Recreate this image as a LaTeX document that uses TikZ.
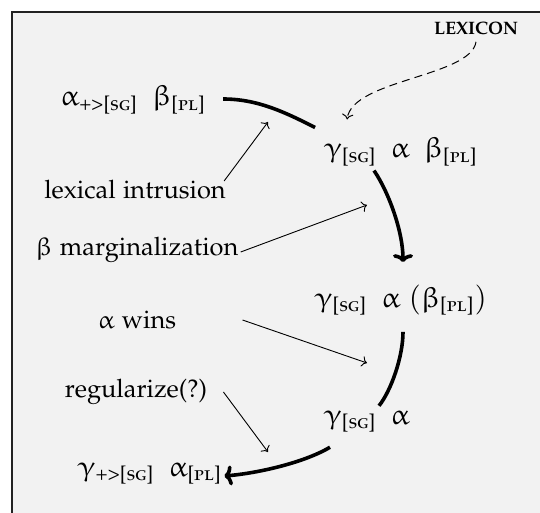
\documentclass[tikz,border=0pt,12pt]{standalone}
\usepackage[T1]{fontenc}
\usepackage[sc]{mathpazo}
\usepackage{amsmath}
\usepackage{upgreek}
\usetikzlibrary{calc,arrows.meta}
\definecolor{bg}{HTML}{F2F2F2}
\definecolor{frame}{HTML}{222222}
\newcommand{\tgsub}[1]{\text{[\textsc{#1}]}}
\tikzset{
  gk/.style={inner sep=0pt,font=\large},
  lbl/.style={inner sep=0pt,font=\fontsize{12.7}{15}\selectfont},
  thickline/.style={line width=1.8pt},
  thickarrow/.style={line width=1.8pt,-{To[length=4pt,width=10pt]}},
  thinarrow/.style={line width=0.45pt,->},
  dasharrow/.style={line width=0.5pt,dash pattern=on 4pt off 2.6pt,->}
}
\begin{document}
\begin{tikzpicture}[x=0.5pt,y=-0.5pt]
\useasboundingbox (0,0) rectangle (540,513);
\fill[bg] (12,12) rectangle (540,513);
\draw[frame,line width=1pt] (12,513) -- (12,12) -- (540,12);

\node[gk] (A) at (133,100) {$\upalpha_{\text{+>[\textsc{sg}]}}\enspace\upbeta_{\tgsub{pl}}$};
\node[gk] (B) at (401,152) {$\upgamma_{\tgsub{sg}}\enspace\upalpha\enspace\upbeta_{\tgsub{pl}}$};
\node[gk] (C) at (401,300) {$\upgamma_{\tgsub{sg}}\enspace\upalpha\ (\upbeta_{\tgsub{pl}})$};
\node[gk] (D) at (367,422) {$\upgamma_{\tgsub{sg}}\enspace\upalpha$};
\node[gk] (E) at (150,474) {$\upgamma_{\text{+>[\textsc{sg}]}}\enspace\upalpha_{\tgsub{pl}}$};
\node[lbl] (lex) at (476,28) {\fontsize{9}{10}\selectfont\bfseries LEXICON};
\node[lbl] (L1) at (135,190) {lexical intrusion};
\node[lbl] (L2) at (137,250) {$\upbeta$ marginalization};
\node[lbl] (L3) at (137,320) {$\upalpha$ wins};
\node[lbl] (L4) at (136,392) {regularize(?)};

\coordinate (t1) at (268,122);
\coordinate (t2) at (367,205);
\coordinate (t3) at (367,363);
\coordinate (t4) at (268,452);

\draw[thickline] ($(A.east)+(17,-1)$) .. controls +(35,0) and +(-30,-15) .. ($(B.north west)+(-9,-10)$);
\draw[thickarrow] ($(B.south)+(-27,4)$) .. controls +(15,22) and +(0,-30) .. ($(C.north)+(2,-22)$);
\draw[thickline] ($(C.south)+(2,16)$) .. controls +(0,25) and +(12,-15) .. ($(D.north east)+(-31,-5)$);
\draw[thickarrow] ($(D.south west)+(6,14)$) .. controls +(-25,15) and +(35,-3) .. ($(E.east)+(2,2)$);

\draw[dasharrow] ($(lex.south)+(0,7)$) .. controls +(-5,35) and +(5,-40) .. ($(B.north west)+(23,-18)$);

\draw[thinarrow] ($(L1.east)+(-2,-9)$) -- (t1);
\draw[thinarrow] ($(L2.east)+(2,2)$) -- (t2);
\draw[thinarrow] ($(L3.east)+(66,0)$) -- (t3);
\draw[thinarrow] ($(L4.east)+(16,0)$) -- (t4);
\end{tikzpicture}
\end{document}
